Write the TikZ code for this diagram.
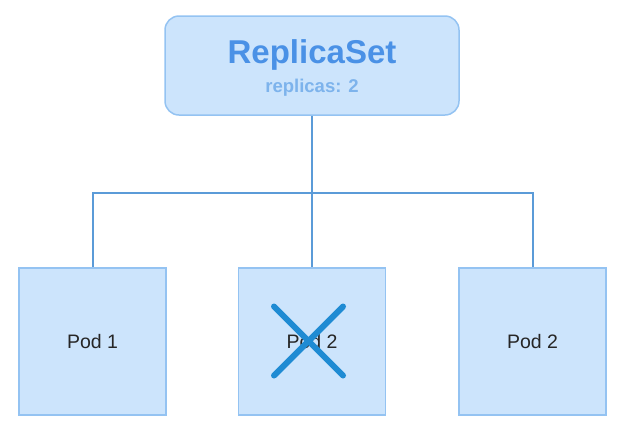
\documentclass[tikz,border=0pt]{standalone}
\usepackage{fontspec}
\setmainfont{Liberation Sans}
\usetikzlibrary{positioning}
\definecolor{boxfill}{HTML}{CCE4FC}
\definecolor{boxline}{HTML}{94C3F2}
\definecolor{wire}{HTML}{5B9BD8}
\definecolor{titleblue}{HTML}{4A91E6}
\definecolor{countblue}{HTML}{7DB3EC}
\definecolor{crossblue}{HTML}{1F8BD3}
\tikzset{
  podbox/.style={draw=boxline, fill=boxfill, line width=1.5pt, minimum width=147pt, minimum height=147pt, inner sep=0pt, font=\fontsize{19.5}{22}\selectfont, text=black!85},
  setbox/.style={draw=boxline, fill=boxfill, line width=1.5pt, rounded corners=14pt, minimum width=294pt, minimum height=99pt, inner sep=0pt},
  wireline/.style={draw=wire, line width=2pt}
}
\begin{document}
\begin{tikzpicture}[x=1pt, y=-1pt]
	\useasboundingbox (0,0) rectangle (617,424);
	\node[setbox] (rs) at (312,65.5) {};
	\node[text=titleblue, font=\fontsize{33}{36}\selectfont\bfseries] (rstitle) at (312,55) {ReplicaSet};
	\node[text=countblue, font=\fontsize{18.5}{20}\selectfont\bfseries] (rscount) at (312,88) {replicas: 2};
	\node[podbox] (pod1) at (92.5,341.5) {Pod 1};
	\node[podbox] (pod2) at (312,341.5) {Pod 2};
	\node[podbox] (pod3) at (532.5,341.5) {Pod 2};
	\coordinate (hub) at (312,193);
	\draw[wireline] (rs.south) -- (hub);
	\draw[wireline] (hub) -| (pod1.north);
	\draw[wireline] (hub) -- (pod2.north);
	\draw[wireline] (hub) -| (pod3.north);
	% crossed-out pod
	\draw[crossblue, line width=6pt, line cap=round] ([shift={(-38,-35)}]pod2.center) -- ([shift={(31,34)}]pod2.center);
	\draw[crossblue, line width=6pt, line cap=round] ([shift={(31,-35)}]pod2.center) -- ([shift={(-38,34)}]pod2.center);
\end{tikzpicture}
\end{document}
